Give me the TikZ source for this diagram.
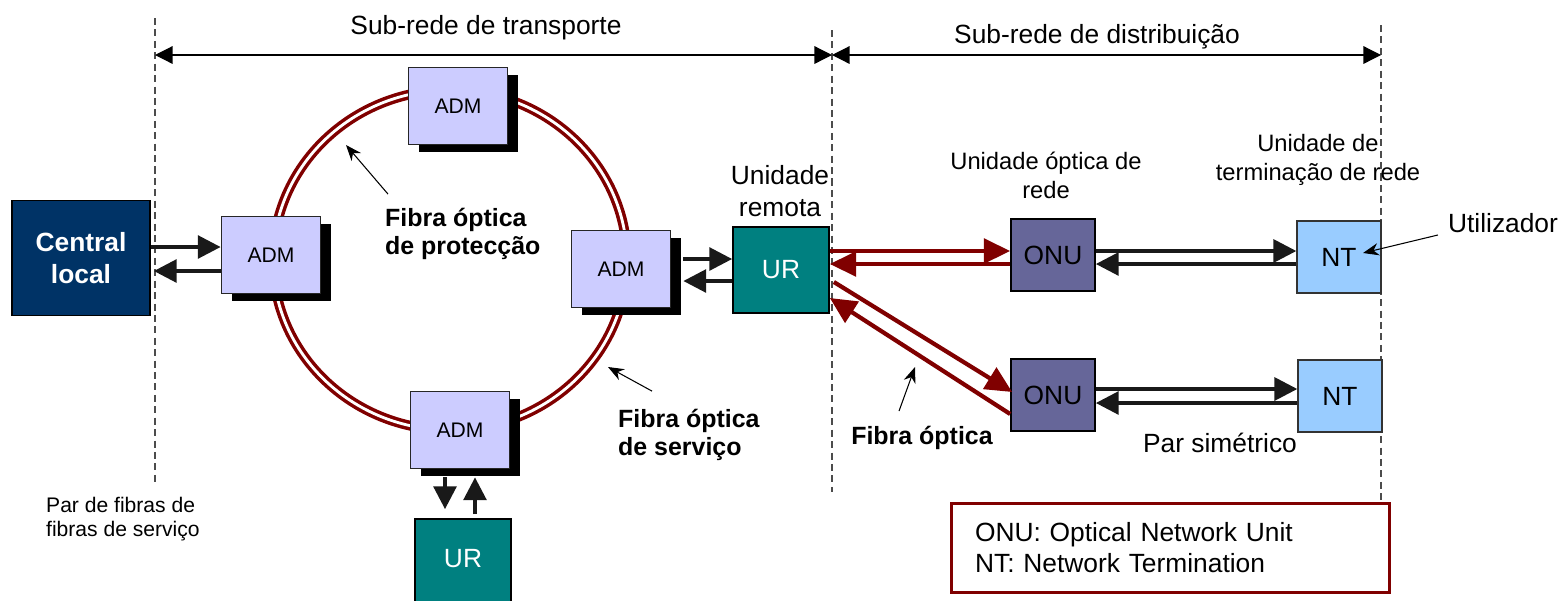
\documentclass[tikz,border=0pt]{standalone}
\usepackage{fontspec}
\setmainfont{Liberation Sans}
\usetikzlibrary{arrows.meta,shadows,calc}

\definecolor{fibra}{HTML}{800000}
\definecolor{centralfill}{HTML}{003366}
\definecolor{admfill}{HTML}{CCCCFF}
\definecolor{urfill}{HTML}{008080}
\definecolor{onufill}{HTML}{666699}
\definecolor{ntfill}{HTML}{99CCFF}

\begin{document}
\begin{tikzpicture}[x=0.02cm, y=-0.02cm,
    adm/.style={draw=black!85, line width=1pt, fill=admfill, minimum width=1.98cm, minimum height=1.54cm,
        inner sep=0pt, font=\fontsize{12}{14}\selectfont,
        general shadow={fill=black, shadow xshift=5.7pt, shadow yshift=-4.5pt}},
    urbox/.style={draw=black, line width=1pt, fill=urfill, text=white, minimum width=1.92cm,
        minimum height=1.72cm, inner sep=0pt, font=\fontsize{15}{18}\selectfont},
    onubox/.style={draw=black, line width=1pt, fill=onufill, minimum width=1.68cm, minimum height=1.44cm,
        inner sep=0pt, font=\fontsize{15}{18}\selectfont},
    ntbox/.style={draw=black!80, line width=0.8pt, fill=ntfill, minimum width=1.68cm, minimum height=1.44cm,
        inner sep=0pt, font=\fontsize{15}{18}\selectfont},
    blkarr/.style={-{Triangle[length=13pt,width=13pt]}, line width=2pt, black!90},
    redarr/.style={-{Triangle[length=15pt,width=14pt]}, line width=2.4pt, fibra},
    dim/.style={{Triangle[length=10pt,width=10pt]}-{Triangle[length=10pt,width=10pt]}, line width=0.7pt},
    guide/.style={dash pattern=on 4pt off 2.5pt, line width=0.6pt, black!70},
    note/.style={-{Stealth[length=9pt,width=7pt]}, line width=0.6pt},
    lbl/.style={font=\fontsize{15}{18}\selectfont},
    boldlbl/.style={font=\bfseries\fontsize{14.2}{15.9}\selectfont, align=left}
]
    \useasboundingbox (0,0) rectangle (1562,600);
    \clip (0,0) rectangle (1562,600);

    % limits of the sub-networks
    \draw[guide] (155,18) -- (155,485);
    \draw[guide] (832,30) -- (832,492);
    \draw[guide] (1381,25) -- (1381,500);
    \coordinate (tl) at (155,55);
    \coordinate (tm) at (832,55);
    \coordinate (tr) at (1381,55);
    \draw[dim] (tl) -- (tm);
    \draw[dim] (tm) -- (tr);
    \node[lbl] (transp) at (486,28) {Sub-rede de transporte};
    \node[lbl] (distr) at (1097,37) {Sub-rede de distribuição};

    % ring of fibres
    \draw[fibra, line width=2pt, double=white, double distance=1.6pt] (450,260) ellipse [x radius=177, y radius=170];

    % central and ADMs
    \node[draw=black, line width=1pt, fill=centralfill, text=white, minimum width=2.76cm, minimum height=2.3cm,
        align=center, font=\bfseries\fontsize{15}{18}\selectfont] (cl) at (81,258) {Central\\local};
    \node[adm] (admt) at (458,106) {ADM};
    \node[adm] (adml) at (271,255) {ADM};
    \node[adm] (admr) at (621,269) {ADM};
    \node[adm] (admb) at (460,430) {ADM};

    % remote units
    \node[urbox] (ur) at (781,270) {UR};
    \node[urbox, minimum height=1.8cm] (urb) at (463,564) {\raisebox{6pt}{UR}};
    \node[lbl, align=center] (urlbl) at (780,191) {Unidade\\remota};

    % ONUs and NTs
    \node[onubox] (onut) at (1053,255) {ONU};
    \node[onubox] (onub) at (1053,395) {ONU};
    \node[ntbox] (ntt) at (1339,257) {NT};
    \node[ntbox] (ntb) at (1340,396) {NT};
    \node[font=\fontsize{13.5}{16.4}\selectfont, align=center] (onulbl) at (1046,175) {Unidade óptica de\\rede};
    \node[font=\fontsize{13.5}{16.4}\selectfont, align=center] (ntlbl) at (1318,160) {Unidade de\\terminação de rede};

    % central <-> ADM
    \draw[blkarr] (cl.east |- 0,247) -- (adml.west |- 0,247);
    \draw[blkarr] (adml.west |- 0,271) -- ($(cl.east |- 0,271)+(3,0)$);

    % ADM <-> UR
    \draw[blkarr] ($(admr.east)+(12,-10)$) -- (ur.west |- 0,259);
    \draw[blkarr] (ur.west |- 0,281) -- ($(admr.east)+(12,12)$);
    \draw[blkarr] ($(admb.south)+(-15,8)$) -- ($(urb.north)+(-18,-9)$);
    \draw[blkarr] ($(urb.north)+(12,-4)$) -- ($(admb.south)+(15,8)$);

    % UR <-> ONU (fibre)
    \draw[redarr] (ur.east |- 0,251) -- (onut.west |- 0,251);
    \draw[redarr] (onut.west |- 0,264) -- (ur.east |- 0,264);
    \draw[redarr] ($(ur.east)+(4,12)$) -- ($(onub.west)+(2,-3)$);
    \draw[redarr] ($(onub.west)+(0,19)$) -- ($(ur.east)+(0,28)$);

    % ONU <-> NT (pair)
    \draw[blkarr] (onut.east |- 0,251) -- (ntt.west |- 0,251);
    \draw[blkarr] (ntt.west |- 0,264) -- (onut.east |- 0,264);
    \draw[blkarr] (onub.east |- 0,389) -- (ntb.west |- 0,389);
    \draw[blkarr] (ntb.west |- 0,403) -- (onub.east |- 0,403);

    % labels with pointers
    \node[boldlbl, anchor=west] (prot) at (379,234) {Fibra óptica\\de protecção};
    \node[boldlbl, anchor=west] (serv) at (612,435) {Fibra óptica\\de serviço};
    \node[boldlbl] (fib) at (922,438) {Fibra óptica};
    \node[lbl] (user) at (1503,223) {Utilizador};
    \draw[note] ($(prot.north west)+(9,-8)$) -- (346,145);
    \draw[note] ($(serv.north west)+(40,-12)$) -- (608,367);
    \draw[note] ($(fib.north)+(-23,-9)$) -- (915,367);
    \draw[note] ($(user.west)+(-4,12)$) -- ($(ntt.center)+(24,-4)$);

    \node[lbl] (par) at (1220,443) {Par simétrico};
    \node[font=\fontsize{12}{14}\selectfont, align=left, anchor=west] (parfib) at (40,519) {Par de fibras de\\fibras de serviço};

    % legend
    \node[draw=fibra, line width=1.7pt, minimum width=8.78cm, minimum height=1.78cm, text width=7.82cm,
        inner xsep=0.48cm, align=left, font=\fontsize{15}{17.6}\selectfont] (legend) at (1170.5,547.5)
        {ONU: Optical Network Unit\\NT: Network Termination};
\end{tikzpicture}
\end{document}
